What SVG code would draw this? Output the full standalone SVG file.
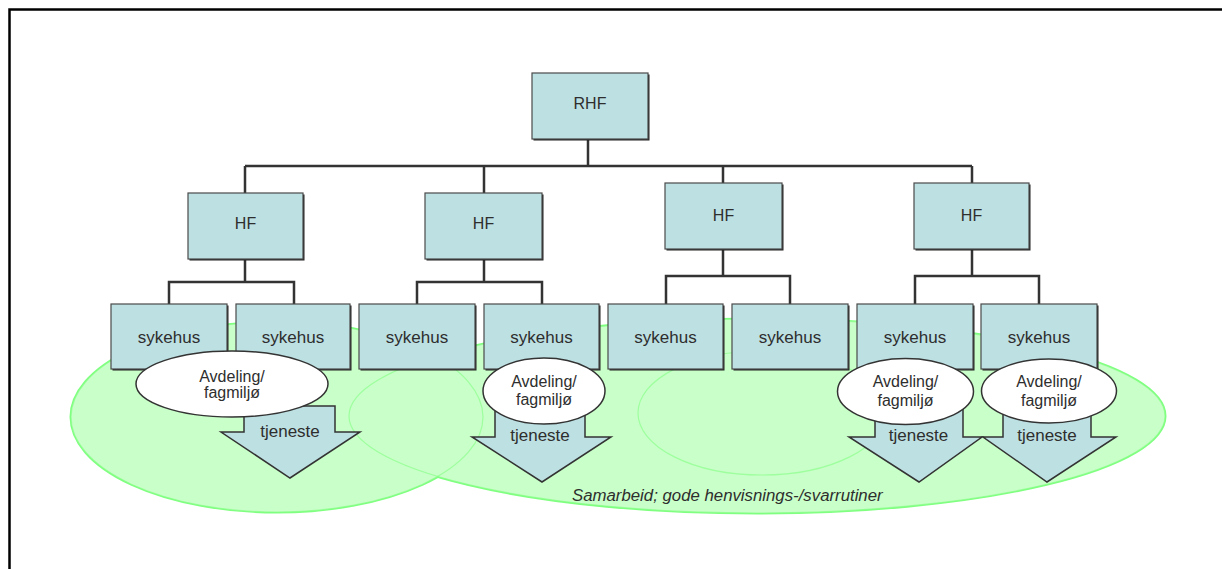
<svg xmlns="http://www.w3.org/2000/svg" width="1222" height="569" viewBox="0 0 1222 569">
  <style>
    .box { fill: #bde0e3; stroke: #4a4a4a; stroke-width: 1.2; }
    .shadow { fill: #222; }
    .lbl { font-family: "Liberation Sans", Arial, sans-serif; font-size: 16px; fill: #2e2e2e; text-anchor: middle; }
    .big { font-size: 17px; }
    .unit { fill: #fff; stroke: #333; stroke-width: 1.5; }
    .arrow { fill: #bde0e3; stroke: #333; stroke-width: 1.5; stroke-linejoin: miter; }
    .link { fill: none; stroke: #333; stroke-width: 2.5; }
    .zone-edge { fill: none; stroke: #80ff80; stroke-width: 3; }
    .zone-fill { fill: #c9ffc9; stroke: none; }
    .zone-line { fill: none; stroke: #80ff80; stroke-width: 1.2; opacity: 0.6; }
    .note { font-family: "Liberation Sans", Arial, sans-serif; font-size: 16.8px; font-style: italic; fill: #2e2e2e; }
  </style>
  <defs>
    <ellipse id="zA" cx="277" cy="417" rx="206" ry="95"/>
    <ellipse id="zB" cx="757" cy="416" rx="408" ry="97"/>
    <ellipse id="zD" cx="762" cy="413" rx="124" ry="62"/>
  </defs>

  <rect width="1222" height="569" fill="#fff"/>
  <!-- page frame -->
  <path d="M9.5 569 V9.5 H1222" fill="none" stroke="#000" stroke-width="2.5"/>

  <!-- cooperation zones: outer edge, fill, then faint inner outlines -->
  <g id="zones">
    <use href="#zA" class="zone-edge"/>
    <use href="#zB" class="zone-edge"/>
    <use href="#zD" class="zone-edge"/>
    <use href="#zA" class="zone-fill"/>
    <use href="#zB" class="zone-fill"/>
    <use href="#zD" class="zone-fill"/>
    <use href="#zA" class="zone-line"/>
    <use href="#zB" class="zone-line"/>
    <use href="#zD" class="zone-line"/>
  </g>

  <!-- connectors -->
  <g id="connectors">
    <path class="link" d="M588 139 V166 M245 166 H972 M245 166 V193 M484 166 V193 M723 166 V183 M972 166 V183"/>
    <path class="link" d="M245 259 V282 M169 304 V282 H294 V304"/>
    <path class="link" d="M484 259 V282 M417 304 V282 H542 V304"/>
    <path class="link" d="M723 249 V276 M666 304 V276 H790 V304"/>
    <path class="link" d="M972 249 V276 M915 304 V276 H1039 V304"/>
  </g>

  <g id="rhf">
    <rect class="shadow" x="533.5" y="74.5" width="116" height="66"/>
    <rect class="box" x="532" y="73" width="116" height="66"/>
    <text class="lbl" x="590" y="109">RHF</text>
  </g>

  <g id="hf1">
    <rect class="shadow" x="189.5" y="194.5" width="115" height="66"/>
    <rect class="box" x="188" y="193" width="115" height="66"/>
    <text class="lbl" x="245.5" y="229">HF</text>
  </g>
  <g id="hf2">
    <rect class="shadow" x="426.5" y="194.5" width="117" height="66"/>
    <rect class="box" x="425" y="193" width="117" height="66"/>
    <text class="lbl" x="483.5" y="229">HF</text>
  </g>
  <g id="hf3">
    <rect class="shadow" x="666.5" y="184.5" width="117" height="66"/>
    <rect class="box" x="665" y="183" width="117" height="66"/>
    <text class="lbl" x="723.5" y="221">HF</text>
  </g>
  <g id="hf4">
    <rect class="shadow" x="915.5" y="184.5" width="115" height="66"/>
    <rect class="box" x="914" y="183" width="115" height="66"/>
    <text class="lbl" x="971.5" y="221">HF</text>
  </g>

  <g id="sykehus1">
    <rect class="shadow" x="112.5" y="305.5" width="116" height="65"/>
    <rect class="box" x="111" y="304" width="116" height="65"/>
    <text class="lbl big" x="169" y="343">sykehus</text>
  </g>
  <g id="sykehus2">
    <rect class="shadow" x="237.5" y="305.5" width="114" height="65"/>
    <rect class="box" x="236" y="304" width="114" height="65"/>
    <text class="lbl big" x="293" y="343">sykehus</text>
  </g>
  <g id="sykehus3">
    <rect class="shadow" x="360.5" y="305.5" width="116" height="65"/>
    <rect class="box" x="359" y="304" width="116" height="65"/>
    <text class="lbl big" x="417" y="343">sykehus</text>
  </g>
  <g id="sykehus4">
    <rect class="shadow" x="485.5" y="305.5" width="115" height="65"/>
    <rect class="box" x="484" y="304" width="115" height="65"/>
    <text class="lbl big" x="541.5" y="343">sykehus</text>
  </g>
  <g id="sykehus5">
    <rect class="shadow" x="609.5" y="305.5" width="115" height="65"/>
    <rect class="box" x="608" y="304" width="115" height="65"/>
    <text class="lbl big" x="665.5" y="343">sykehus</text>
  </g>
  <g id="sykehus6">
    <rect class="shadow" x="733.5" y="305.5" width="116" height="65"/>
    <rect class="box" x="732" y="304" width="116" height="65"/>
    <text class="lbl big" x="790" y="343">sykehus</text>
  </g>
  <g id="sykehus7">
    <rect class="shadow" x="858.5" y="305.5" width="116" height="65"/>
    <rect class="box" x="857" y="304" width="116" height="65"/>
    <text class="lbl big" x="915" y="343">sykehus</text>
  </g>
  <g id="sykehus8">
    <rect class="shadow" x="982.5" y="305.5" width="116" height="65"/>
    <rect class="box" x="981" y="304" width="116" height="65"/>
    <text class="lbl big" x="1039" y="343">sykehus</text>
  </g>

  <!-- service arrows sit under the department ellipses -->
  <g id="tjeneste1">
    <path class="arrow" d="M244 406 H335 V432 H360 L290 478 L221 432 H244 Z"/>
  </g>
  <g id="tjeneste2">
    <path class="arrow" d="M495 400 H585 V437 H611 L542 482 L472 437 H495 Z"/>
  </g>
  <g id="tjeneste3">
    <path class="arrow" d="M875 400 H963 V437 H982 L919 482 L849 437 H875 Z"/>
  </g>
  <g id="tjeneste4">
    <path class="arrow" d="M1003 400 H1091 V437 H1116 L1047 482 L983 437 H1003 Z"/>
  </g>

  <g id="avdeling1">
    <ellipse class="unit" cx="232" cy="384" rx="96" ry="33"/>
    <text class="lbl" x="232" y="382">Avdeling/</text>
    <text class="lbl" x="232" y="398">fagmiljø</text>
  </g>
  <g id="avdeling2">
    <ellipse class="unit" cx="544" cy="391" rx="61" ry="33"/>
    <text class="lbl" x="544" y="387">Avdeling/</text>
    <text class="lbl" x="544" y="405">fagmiljø</text>
  </g>
  <g id="avdeling3">
    <ellipse class="unit" cx="905.5" cy="391.5" rx="68" ry="33"/>
    <text class="lbl" x="905.5" y="387">Avdeling/</text>
    <text class="lbl" x="905.5" y="406">fagmiljø</text>
  </g>
  <g id="avdeling4">
    <ellipse class="unit" cx="1049" cy="391" rx="67.5" ry="32"/>
    <text class="lbl" x="1049" y="387">Avdeling/</text>
    <text class="lbl" x="1049" y="406">fagmiljø</text>
  </g>

  <g id="tjeneste-labels">
    <text class="lbl big" x="290" y="437">tjeneste</text>
    <text class="lbl big" x="540" y="441">tjeneste</text>
    <text class="lbl big" x="918.5" y="441">tjeneste</text>
    <text class="lbl big" x="1047" y="441">tjeneste</text>
  </g>

  <text class="note" x="572" y="501">Samarbeid; gode henvisnings-/svarrutiner</text>
</svg>
